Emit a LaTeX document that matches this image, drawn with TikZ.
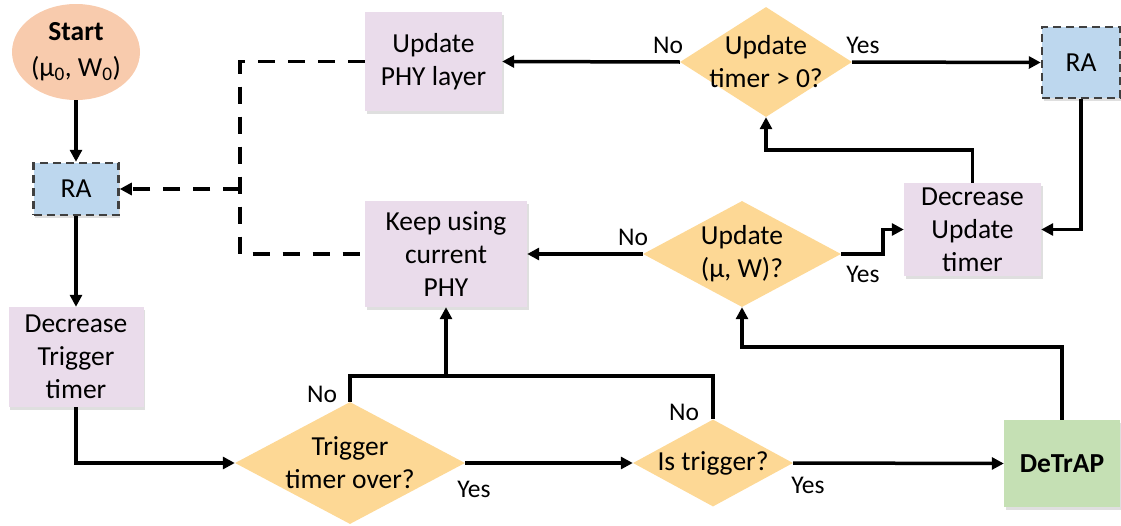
\documentclass[tikz,border=0pt]{standalone}
\usepackage{fontspec}
\setmainfont{Carlito}
\usepackage{xcolor}
\definecolor{vizStart}{HTML}{F8CBAD}
\definecolor{vizRA}{HTML}{BDD7EE}
\definecolor{vizProc}{HTML}{EADCEB}
\definecolor{vizDecision}{HTML}{FDD895}
\definecolor{vizDetrap}{HTML}{C5E0B4}
\definecolor{vizBorder}{HTML}{404040}
\usetikzlibrary{shapes.geometric,arrows.meta,shadows}

\tikzset{
  boxShadow/.style={drop shadow={shadow xshift=1.5pt,shadow yshift=-2.5pt,opacity=0.25}},
  procBox/.style={rectangle,fill=vizProc,draw=none,align=center,inner sep=0pt,boxShadow},
  raBox/.style={rectangle,fill=vizRA,draw=vizBorder,line width=2.5pt,dash pattern=on 8pt off 5pt,inner sep=0pt,boxShadow},
  decision/.style={diamond,fill=vizDecision,draw=none,inner sep=0pt},
  flow/.style={line width=3.5pt,-{Triangle[length=12pt,width=12pt]}},
  flowLine/.style={line width=3.5pt},
  dashFlow/.style={line width=3.5pt,dash pattern=on 17pt off 13pt},
  answer/.style={font=\fontsize{25.5}{30}\selectfont}
}

\begin{document}
\begin{tikzpicture}[x=1pt,y=-1pt,font=\fontsize{27.5}{33}\selectfont]
  \useasboundingbox (0,0) rectangle (1121,525);
  \node[ellipse,fill=vizStart,minimum width=128pt,minimum height=96pt,inner sep=-6pt,align=center] (start) at (76,52) {\textbf{Start}\\[3pt](μ\textsubscript{0}, W\textsubscript{0})};
  \node[raBox,minimum width=85pt,minimum height=52pt] (raL) at (76,189) {RA};
  \node[procBox,minimum width=135pt,minimum height=100pt] (dtt) at (76,357) {Decrease\\Trigger\\timer};
  \node[decision,minimum width=230pt,minimum height=122pt,label={[align=center]center:Trigger\\timer over?}] (tto) at (350,463) {};
  \node[decision,minimum width=160pt,minimum height=87pt,label={center:Is trigger?}] (ist) at (713,463) {};
  \node[procBox,fill=vizDetrap,minimum width=116pt,minimum height=87pt,font=\fontsize{27.5}{33}\selectfont\bfseries] (detrap) at (1062,463.5) {DeTrAP};
  \node[procBox,minimum width=162pt,minimum height=106pt] (keep) at (446,254) {Keep using\\current\\PHY};
  \node[decision,minimum width=198pt,minimum height=106pt,label={[align=center]center:Update\\(μ, W)?}] (updmw) at (742,254) {};
  \node[procBox,minimum width=137pt,minimum height=93pt] (dut) at (972.5,229.5) {Decrease\\Update\\timer};
  \node[procBox,minimum width=137pt,minimum height=99pt] (uphy) at (433.5,61.5) {Update\\PHY layer};
  \node[decision,minimum width=172pt,minimum height=110pt,label={[align=center]center:Update\\timer > 0?}] (utg) at (766,62) {};
  \node[raBox,minimum width=78pt,minimum height=71pt] (raR) at (1081,62.5) {RA};

  \coordinate (jn) at (446,376);
  \coordinate (dj) at (1062,347);
  \coordinate (uj) at (972.5,150);
  \coordinate (dsh) at (240,189);

  \draw[flow] (start) -- (raL);
  \draw[flow] (raL) -- (dtt);
  \draw[flow] (dtt.south) |- (tto.west);
  \draw[flow] (tto.east) -- (ist.west);
  \draw[flow] (ist.east) -- (detrap.west);
  \draw[flowLine] (tto.north) |- (jn) -| (ist.north);
  \draw[flow] (jn) -- (keep.south);
  \draw[flow] (detrap.north) -- (dj) -| (updmw.south);
  \draw[flow] (updmw.west) -- (keep.east);
  \draw[flow] (updmw.east) -- ++(42,0) |- (dut.west);
  \draw[flow] (raR.south) |- (dut.east);
  \draw[flow] (dut.north) -- (uj) -| (utg.south);
  \draw[flow] (utg.west) -- (uphy.east);
  \draw[flow] (utg.east) -- (raR.west);
  \draw[dashFlow] (uphy.west) -| (dsh) |- (keep.west);
  \draw[dashFlow,-{Triangle[length=12pt,width=12pt]}] (dsh) -- (raL.east);

  \node[answer] (noUtg) at (668,45) {No};
  \node[answer] (yesUtg) at (863,45) {Yes};
  \node[answer] (noMw) at (633,237) {No};
  \node[answer] (yesMw) at (863,274) {Yes};
  \node[answer] (noTto) at (322,394) {No};
  \node[answer] (yesTto) at (474,489) {Yes};
  \node[answer] (noIst) at (684,412) {No};
  \node[answer] (yesIst) at (808,485) {Yes};
\end{tikzpicture}
\end{document}
